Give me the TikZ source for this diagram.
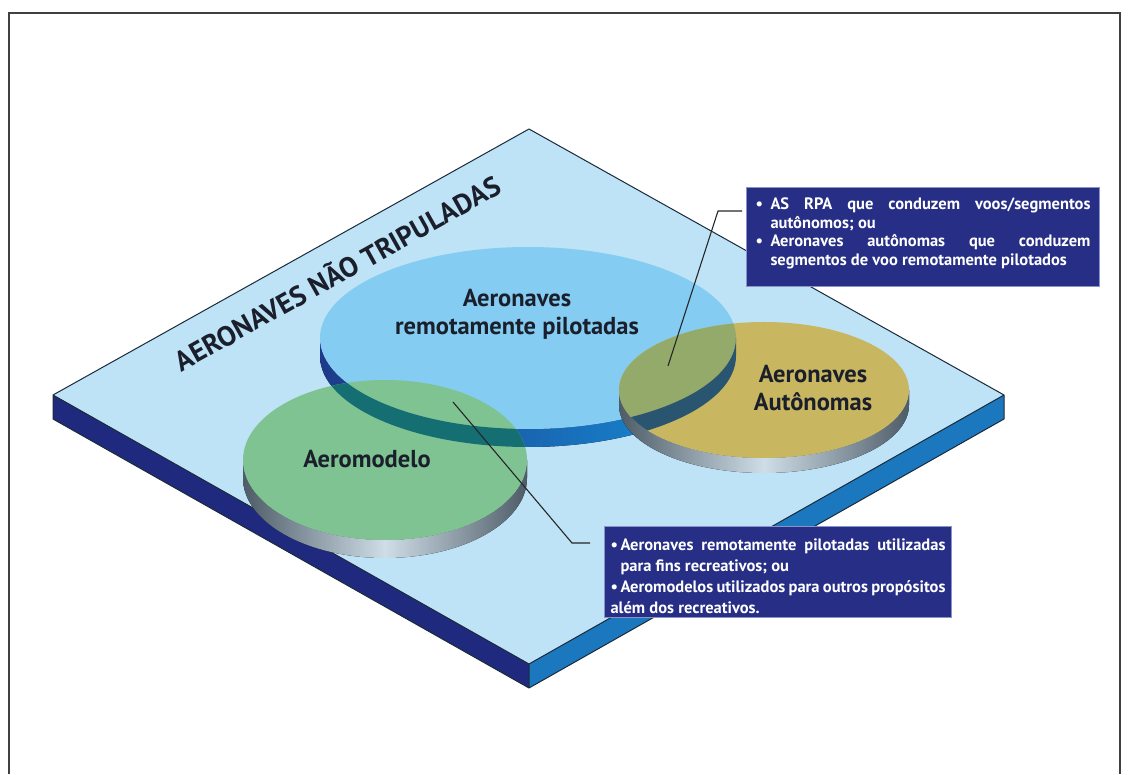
\documentclass[tikz,border=0pt]{standalone}
\usepackage{fontspec}
\setmainfont{PT Sans}
\usetikzlibrary{positioning}

\definecolor{platetop}{HTML}{BEE3F7}
\definecolor{plateleft}{HTML}{1F2A7E}
\definecolor{plateright}{HTML}{1C78BE}
\definecolor{plateedge}{HTML}{1B2A3A}
\definecolor{rpablue}{HTML}{84CCF1}
\definecolor{bandnavy}{HTML}{1E3A8A}
\definecolor{bandbright}{HTML}{1592DA}
\definecolor{modelgreen}{HTML}{80C392}
\definecolor{bandteal}{HTML}{156E72}
\definecolor{autoyellow}{HTML}{C8B660}
\definecolor{overlapolive}{HTML}{93AA6A}
\definecolor{bandunder}{HTML}{2A5570}
\definecolor{sidedark}{HTML}{4E5C68}
\definecolor{sidelight}{HTML}{CFDDE7}
\definecolor{boxblue}{HTML}{262F85}
\definecolor{boxline}{HTML}{8A93C8}
\definecolor{labeltext}{HTML}{1A1F2B}

% side band of the big disc
\newcommand{\rpaband}{(320,436) arc[start angle=180, end angle=360, x radius=208pt, y radius=91pt]
  -- ++(0,-18) arc[start angle=360, end angle=180, x radius=208pt, y radius=91pt] -- cycle}
\newcommand{\bitem}[2][15pt]{\par\noindent\hangindent=#1\hangafter=1\makebox[#1][l]{\textbullet}#2}

\begin{document}
\begin{tikzpicture}[x=1pt, y=1pt,
    label/.style={font=\bfseries\fontsize{24.5}{28}\selectfont, text=labeltext, align=center},
    infobox/.style={fill=boxblue, draw=boxline, line width=0.8pt, text=white, align=justify},
    disc side/.style={left color=sidedark, right color=sidedark, middle color=sidelight},
    leader/.style={line width=1.1pt, black!85}
  ]
  \useasboundingbox (0,0) rectangle (1130,774);

  % frame
  \draw[line width=2.5pt, black!75] (9,0) -- (9,761) -- (1120,761) -- (1120,0);

  % plate
  \fill[platetop] (529,645) -- (1004,379) -- (529,110) -- (53,379) -- cycle;
  \fill[plateleft] (53,379) -- (529,110) -- (529,86) -- (53,355) -- cycle;
  \fill[plateright] (529,110) -- (1004,379) -- (1004,355) -- (529,86) -- cycle;
  \draw[plateedge, line width=1pt, line join=round]
    (53,379) -- (529,645) -- (1004,379) -- (529,110) -- cycle
    (53,379) -- (53,355) -- (529,86) -- (1004,355) -- (1004,379)
    (529,110) -- (529,86);

  % discs
  \fill[left color=bandnavy, right color=bandbright] \rpaband;
  \fill[rpablue] (528,436) ellipse[x radius=208pt, y radius=91pt];

  \fill[disc side]
    (243,314) arc[start angle=180, end angle=360, x radius=142pt, y radius=80pt]
    -- ++(0,-18) arc[start angle=360, end angle=180, x radius=142pt, y radius=80pt] -- cycle;
  \fill[modelgreen] (385,314) ellipse[x radius=142pt, y radius=80pt];
  \begin{scope}
    \clip (385,314) ellipse[x radius=142pt, y radius=80pt];
    \fill[bandteal] \rpaband;
  \end{scope}

  \fill[disc side]
    (619,384) arc[start angle=180, end angle=360, x radius=145pt, y radius=68pt]
    -- ++(0,-15) arc[start angle=360, end angle=180, x radius=145pt, y radius=68pt] -- cycle;
  \fill[autoyellow] (764,384) ellipse[x radius=145pt, y radius=68pt];
  \begin{scope}
    \clip (764,384) ellipse[x radius=145pt, y radius=68pt];
    \fill[overlapolive] (528,436) ellipse[x radius=208pt, y radius=91pt];
    \fill[bandunder] \rpaband;
  \end{scope}

  % labels
  \node[label, rotate=29.2, font=\bfseries\fontsize{28}{30}\selectfont] (naoTripuladas) at (337,502) {AERONAVES NÃO TRIPULADAS};
  \node[label] (rpaLabel) at (517,460) {Aeronaves\\remotamente pilotadas};
  \node[label] (modelLabel) at (367,315) {Aeromodelo};
  \node[label] (autoLabel) at (813,386) {Aeronaves\\Autônomas};

  % callouts
  \node[infobox, font=\bfseries\fontsize{16.5}{18.7}\selectfont, inner xsep=9pt,
        text width=335pt, minimum height=99pt] (autoBox) at (923,537) {%
    \bitem{AS RPA que conduzem voos/segmentos\linebreak autônomos; ou}
    \bitem{Aeronaves autônomas que conduzem\linebreak segmentos de voo remotamente pilotados}
    \par\vspace{14pt}};
  \node[infobox, font=\bfseries\fontsize{16.5}{21}\selectfont, inner xsep=6pt,
        text width=335pt, minimum height=91pt] (modelBox) at (778,202) {%
    \bitem[10pt]{Aeronaves remotamente pilotadas utilizadas\linebreak para fins recreativos; ou}
    \bitem[10pt]{Aeromodelos utilizados para outros propósitos\linebreak além dos recreativos.}};

  \coordinate (autoPoint) at (668,408);
  \coordinate (autoBend) at (718,563);
  \coordinate (modelPoint) at (453,372);
  \coordinate (modelBend) at (572,231);
  \draw[leader, shorten >=4pt] (autoPoint) -- (autoBend) -- (autoBend -| autoBox.west);
  \draw[leader, shorten >=14pt] (modelPoint) -- (modelBend) -- (modelBend -| modelBox.west);
\end{tikzpicture}
\end{document}
